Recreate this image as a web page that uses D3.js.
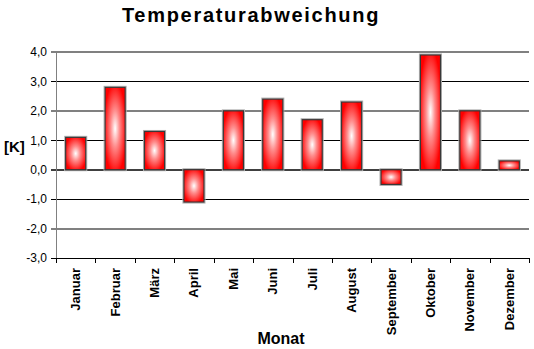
<!DOCTYPE html>
<html>
<head>
<meta charset="utf-8">
<script src="https://cdn.jsdelivr.net/npm/d3@7/dist/d3.min.js"></script>
<style>
  html, body { margin: 0; padding: 0; background: #fff; }
  svg { display: block; font-family: "Liberation Sans", Arial, sans-serif; }
</style>
</head>
<body>
<svg id="chart" width="534" height="349"></svg>
<script>
// Monthly temperature deviation in Kelvin
const months = ["Januar", "Februar", "März", "April", "Mai", "Juni", "Juli",
                "August", "September", "Oktober", "November", "Dezember"];
const deviation = [1.1, 2.8, 1.3, -1.1, 2.0, 2.4, 1.7, 2.3, -0.5, 3.9, 2.0, 0.3];
const yTicks = [-3, -2, -1, 0, 1, 2, 3, 4];

const svg = d3.select("#chart");
const plotLeft = 56, plotRight = 529, plotTop = 52, plotBottom = 258;

const x = d3.scaleBand().domain(months).range([plotLeft, plotRight]).padding(0);
const y = d3.scaleLinear().domain([-3, 4]).range([plotBottom, plotTop]);

// bar fill: white core fading to red
const defs = svg.append("defs");
const grad = defs.append("radialGradient").attr("id", "barFill")
  .attr("cx", "50%").attr("cy", "50%").attr("r", "56%");
grad.append("stop").attr("offset", "0%").attr("stop-color", "#ffffff");
grad.append("stop").attr("offset", "40%").attr("stop-color", "#ff8c8c");
grad.append("stop").attr("offset", "100%").attr("stop-color", "#ff0000");

// title
svg.append("text")
  .attr("x", 251).attr("y", 22)
  .attr("text-anchor", "middle")
  .attr("font-size", 20).attr("font-weight", "bold")
  .attr("letter-spacing", 1.7)
  .attr("fill", "#000")
  .text("Temperaturabweichung");

// horizontal grid lines (even values grey and heavier, odd values thin black)
const grid = svg.append("g");
yTicks.forEach(v => {
  let stroke = "#000", w = 1;
  if (v === 0) { stroke = "#404040"; w = 2; }
  else if (v % 2 === 0) { stroke = "#808080"; w = 2; }
  const yy = Math.round(y(v)) + (w === 1 ? 0.5 : 0);
  grid.append("line")
    .attr("x1", plotLeft - 5).attr("x2", plotRight)
    .attr("y1", yy).attr("y2", yy)
    .attr("stroke", stroke).attr("stroke-width", w);
});

// y axis labels
const yAxis = d3.axisLeft(y).tickValues(yTicks).tickSize(0).tickPadding(9)
  .tickFormat(d => d3.format(".1f")(d).replace(".", ",").replace("−", "-"));
svg.append("g").attr("transform", `translate(${plotLeft},0)`).call(yAxis)
  .call(g => g.select(".domain").remove())
  .call(g => g.selectAll("text").attr("font-size", 12)
    .attr("font-family", "'Liberation Sans', Arial, sans-serif").attr("fill", "#000"));

// vertical axis line
svg.append("line")
  .attr("x1", plotLeft + 0.5).attr("x2", plotLeft + 0.5)
  .attr("y1", plotTop).attr("y2", plotBottom + 5)
  .attr("stroke", "#808080").attr("stroke-width", 1);

// bottom axis with ticks at category boundaries
svg.append("line")
  .attr("x1", plotLeft).attr("x2", plotRight)
  .attr("y1", plotBottom + 0.5).attr("y2", plotBottom + 0.5)
  .attr("stroke", "#000");
const bounds = months.map(m => x(m)).concat([plotRight]);
svg.append("g").selectAll("line").data(bounds).join("line")
  .attr("x1", d => Math.round(d) + 0.5).attr("x2", d => Math.round(d) + 0.5)
  .attr("y1", plotBottom).attr("y2", plotBottom + 5)
  .attr("stroke", "#000");

// bars
const barW = x.bandwidth() * 0.51;
const bars = svg.append("g");
bars.selectAll("rect.halo").data(deviation).join("rect")
  .attr("class", "halo")
  .attr("x", (d, i) => x(months[i]) + (x.bandwidth() - barW) / 2 - 1)
  .attr("y", d => Math.min(y(d), y(0)) - 1)
  .attr("width", barW + 2)
  .attr("height", d => Math.abs(y(d) - y(0)) + 2)
  .attr("fill", "none").attr("stroke", "#b0b0b0").attr("stroke-width", 1);
bars.selectAll("rect.bar").data(deviation).join("rect")
  .attr("class", "bar")
  .attr("x", (d, i) => x(months[i]) + (x.bandwidth() - barW) / 2)
  .attr("y", d => Math.min(y(d), y(0)))
  .attr("width", barW)
  .attr("height", d => Math.abs(y(d) - y(0)))
  .attr("fill", "url(#barFill)")
  .attr("stroke", "#383838").attr("stroke-width", 1.2);

// month labels, rotated
svg.append("g").selectAll("text").data(months).join("text")
  .attr("transform", m => `translate(${x(m) + x.bandwidth() / 2 + 4.5},${plotBottom + 10}) rotate(-90)`)
  .attr("text-anchor", "end")
  .attr("font-size", 13).attr("font-weight", "bold")
  .attr("fill", "#000")
  .text(m => m);

// axis titles
svg.append("text")
  .attr("x", 281).attr("y", 344)
  .attr("text-anchor", "middle")
  .attr("font-size", 16).attr("font-weight", "bold")
  .attr("fill", "#000")
  .text("Monat");

svg.append("text")
  .attr("x", 4).attr("y", 152)
  .attr("font-size", 15).attr("font-weight", "bold")
  .attr("fill", "#000")
  .text("[K]");
</script>
</body>
</html>
